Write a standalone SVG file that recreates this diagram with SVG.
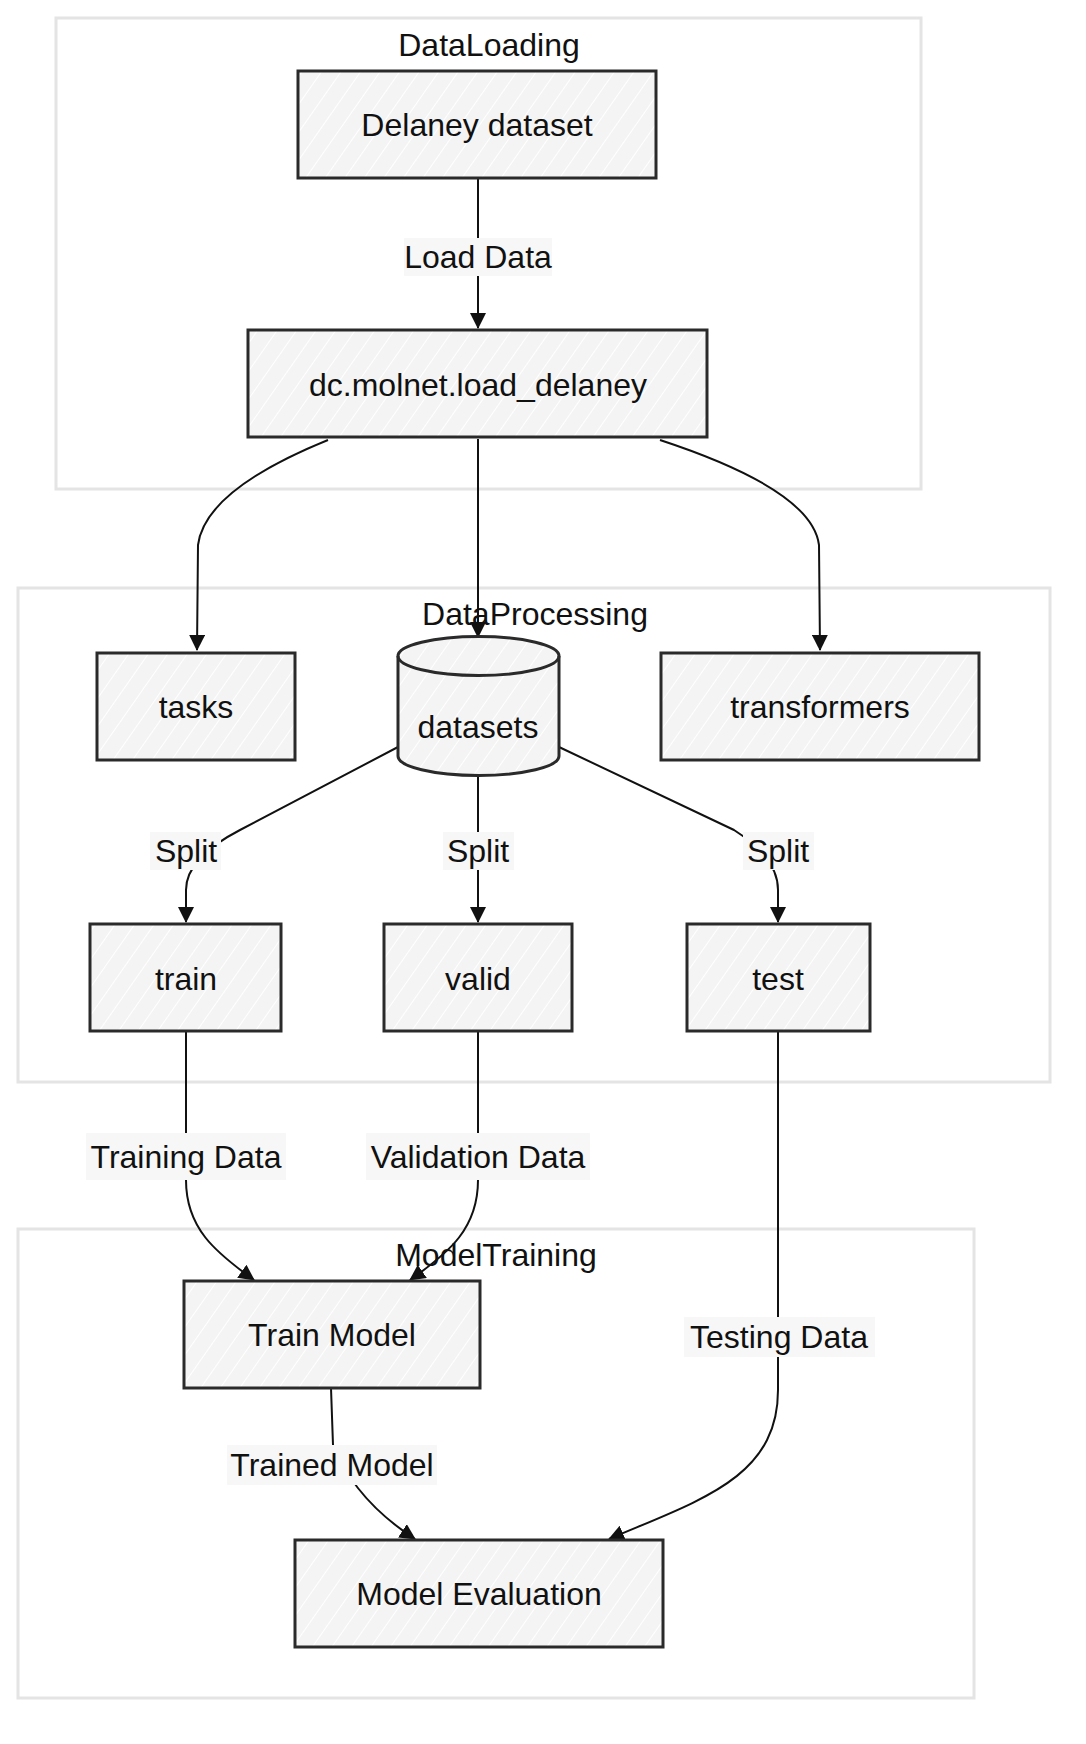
<svg xmlns="http://www.w3.org/2000/svg" width="1086" height="1744" viewBox="0 0 1086 1744">
<defs>
<pattern id="hatch" width="16" height="16" patternUnits="userSpaceOnUse" patternTransform="rotate(35)">
<rect width="16" height="16" fill="#f4f4f4"/>
<line x1="0" y1="0" x2="0" y2="16" stroke="#ffffff" stroke-width="2"/>
</pattern>
<marker id="arr" viewBox="0 0 16 16" refX="15" refY="8" markerWidth="16" markerHeight="16" markerUnits="userSpaceOnUse" orient="auto">
<path d="M0,0 L16,8 L0,16 Z" fill="#111"/>
</marker>
</defs>
<style>
.cluster{fill:#ffffff;stroke:#e4e4e4;stroke-width:3}
.node{fill:url(#hatch);stroke:#2a2a2a;stroke-width:3}
.edge{fill:none;stroke:#111;stroke-width:2}
.lblbg{fill:#f7f7f7}
text{font-family:"Liberation Sans",Arial,sans-serif;font-size:32px;fill:#111;text-anchor:middle}
</style>
<rect width="1086" height="1744" fill="#ffffff"/>

<g id="cluster-DataLoading">
<rect class="cluster" x="56" y="18" width="865" height="471"/>
<text x="489" y="56">DataLoading</text>
</g>
<g id="cluster-DataProcessing">
<rect class="cluster" x="18" y="588" width="1032" height="494"/>
<text x="535" y="625">DataProcessing</text>
</g>
<g id="cluster-ModelTraining">
<rect class="cluster" x="18" y="1229" width="956" height="469"/>
<text x="496" y="1266">ModelTraining</text>
</g>

<g id="connectors">
<path class="edge" d="M478,178 L478,328" marker-end="url(#arr)"/>
<path class="edge" d="M328,440 Q205,490 198,545 L197,650" marker-end="url(#arr)"/>
<path class="edge" d="M478,439 L478,637" marker-end="url(#arr)"/>
<path class="edge" d="M660,440 Q812,490 819,545 L820,650" marker-end="url(#arr)"/>
<path class="edge" d="M398,747 L240,830 Q186,858 186,890 L186,922" marker-end="url(#arr)"/>
<path class="edge" d="M478,775 L478,922" marker-end="url(#arr)"/>
<path class="edge" d="M559,747 L734,830 Q778,858 778,890 L778,922" marker-end="url(#arr)"/>
<path class="edge" d="M186,1031 L186,1180 C186,1228 215,1252 254,1280" marker-end="url(#arr)"/>
<path class="edge" d="M478,1031 L478,1180 C478,1228 450,1252 410,1280" marker-end="url(#arr)"/>
<path class="edge" d="M778,1031 L778,1390 C778,1478 700,1500 609,1539" marker-end="url(#arr)"/>
<path class="edge" d="M331,1388 L333,1445 Q355,1500 415,1539" marker-end="url(#arr)"/>
</g>

<g id="edge-labels">
<rect class="lblbg" x="404" y="238" width="148" height="38"/>
<text x="478" y="268">Load Data</text>
<rect class="lblbg" x="150" y="832" width="71" height="38"/>
<text x="186" y="862">Split</text>
<rect class="lblbg" x="443" y="832" width="71" height="38"/>
<text x="478" y="862">Split</text>
<rect class="lblbg" x="743" y="832" width="71" height="38"/>
<text x="778" y="862">Split</text>
<rect class="lblbg" x="86" y="1133" width="200" height="47"/>
<text x="186" y="1168">Training Data</text>
<rect class="lblbg" x="366" y="1133" width="224" height="47"/>
<text x="478" y="1168">Validation Data</text>
<rect class="lblbg" x="684" y="1317" width="191" height="40"/>
<text x="779" y="1348">Testing Data</text>
<rect class="lblbg" x="227" y="1445" width="210" height="40"/>
<text x="332" y="1476">Trained Model</text>
</g>

<g id="node-delaney">
<rect class="node" x="298" y="71" width="358" height="107"/>
<text x="477" y="136">Delaney dataset</text>
</g>
<g id="node-load">
<rect class="node" x="248" y="330" width="459" height="107"/>
<text x="478" y="396">dc.molnet.load_delaney</text>
</g>
<g id="node-tasks">
<rect class="node" x="97" y="653" width="198" height="107"/>
<text x="196" y="718">tasks</text>
</g>
<g id="node-datasets">
<path class="node" d="M398,656 L398,756 A80.5,19.5 0 0,0 559,756 L559,656 A80.5,19.5 0 0,0 398,656 Z"/>
<path d="M398,656 A80.5,19.5 0 0,0 559,656" fill="none" stroke="#2a2a2a" stroke-width="3"/>
<text x="478" y="738">datasets</text>
</g>
<g id="node-transformers">
<rect class="node" x="661" y="653" width="318" height="107"/>
<text x="820" y="718">transformers</text>
</g>
<g id="node-train">
<rect class="node" x="90" y="924" width="191" height="107"/>
<text x="186" y="990">train</text>
</g>
<g id="node-valid">
<rect class="node" x="384" y="924" width="188" height="107"/>
<text x="478" y="990">valid</text>
</g>
<g id="node-test">
<rect class="node" x="687" y="924" width="183" height="107"/>
<text x="778" y="990">test</text>
</g>
<g id="node-trainmodel">
<rect class="node" x="184" y="1281" width="296" height="107"/>
<text x="332" y="1346">Train Model</text>
</g>
<g id="node-eval">
<rect class="node" x="295" y="1540" width="368" height="107"/>
<text x="479" y="1605">Model Evaluation</text>
</g>
</svg>
